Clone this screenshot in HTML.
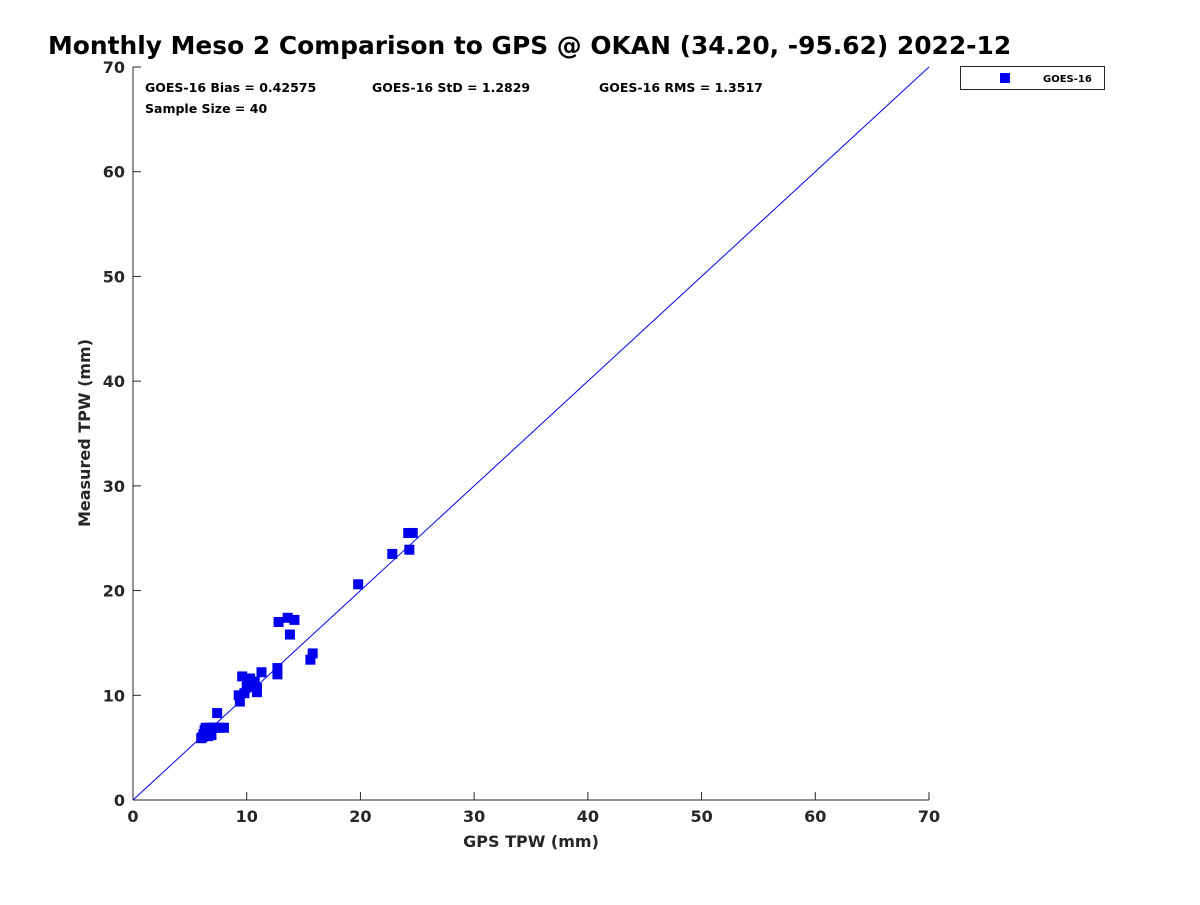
<!DOCTYPE html>
<html><head><meta charset="utf-8"><style>
body{margin:0;background:#fff;}
text{font-family:"DejaVu Sans","Liberation Sans",sans-serif;font-weight:bold;}
</style></head><body>
<svg id="chart" width="1200" height="900" xmlns="http://www.w3.org/2000/svg">
<rect width="1200" height="900" fill="#fff"/>
<text x="48" y="54" font-size="24.9" fill="#000">Monthly Meso 2 Comparison to GPS @ OKAN (34.20, -95.62) 2022-12</text>
<g id="axes"></g>
<line id="diag" stroke="#0000ee" stroke-width="1"/>
<g id="pts"></g>
<text x="145" y="92" font-size="12.5">GOES-16 Bias = 0.42575</text>
<text x="372" y="92" font-size="12.5">GOES-16 StD = 1.2829</text>
<text x="599" y="92" font-size="12.5">GOES-16 RMS = 1.3517</text>
<text x="145" y="113" font-size="12.5">Sample Size = 40</text>
<text x="531" y="847" font-size="16" fill="#262626" text-anchor="middle">GPS TPW (mm)</text>
<text transform="translate(90,433) rotate(-90)" font-size="16" fill="#262626" text-anchor="middle">Measured TPW (mm)</text>
<g>
<rect x="960.5" y="66.5" width="144" height="23" fill="#fff" stroke="#262626" stroke-width="1"/>
<rect x="1000" y="73" width="10" height="10" fill="#0000ee"/>
<text x="1043" y="82" font-size="10">GOES-16</text>
</g>
</svg>
<script>
const xTicks=[0,10,20,30,40,50,60,70];
const yTicks=[0,10,20,30,40,50,60,70];
const gpsValues=[6.0,6.2,6.3,6.5,6.6,6.8,7.0,7.3,7.6,8.0,6.4,7.4,9.3,9.4,9.6,9.8,10.0,10.1,10.3,10.5,10.7,10.9,10.9,11.3,12.7,12.7,12.8,13.6,13.8,14.2,15.6,15.8,19.8,22.8,24.2,24.6,24.3,6.1,6.9,10.2];
const measuredValues=[5.9,6.3,6.7,6.5,6.1,6.9,6.9,6.9,6.9,6.9,6.9,8.3,10.0,9.4,11.8,10.2,10.8,11.4,11.6,11.0,11.3,10.3,10.7,12.2,12.0,12.6,17.0,17.4,15.8,17.2,13.4,14.0,20.6,23.5,25.5,25.5,23.9,6.0,6.2,11.6];
const X0=133,X1=929,Y0=800,Y1=67,MAX=70;
const sx=v=>X0+(X1-X0)*v/MAX, sy=v=>Y0-(Y0-Y1)*v/MAX;
const NS="http://www.w3.org/2000/svg";
const ax=document.getElementById('axes');
function mk(t,a,p){const e=document.createElementNS(NS,t);for(const k in a)e.setAttribute(k,a[k]);(p||ax).appendChild(e);return e;}
let l=mk('line',{x1:X0,y1:Y0,x2:X1,y2:Y0,stroke:'#262626'});


l=mk('line',{x1:X0,y1:Y0,x2:X0,y2:Y1,stroke:'#262626'});


xTicks.forEach(v=>{
 const t=mk('line',{x1:sx(v),y1:Y0,x2:sx(v),y2:Y0-8,stroke:'#262626'});
 
 
 const s=mk('text',{x:sx(v),y:Y0+22,'font-size':16,fill:'#262626','text-anchor':'middle'});
 s.textContent=v;
 
 
});
yTicks.forEach(v=>{
 const t=mk('line',{x1:X0,y1:sy(v),x2:X0+8,y2:sy(v),stroke:'#262626'});
 
 
 const s=mk('text',{x:X0-8,y:sy(v)+6,'font-size':16,fill:'#262626','text-anchor':'end'});
 s.textContent=v;
 
 
});
const d=document.getElementById('diag');
d.setAttribute('x1',sx(0));d.setAttribute('y1',sy(0));d.setAttribute('x2',sx(MAX));d.setAttribute('y2',sy(MAX));
const pg=document.getElementById('pts');
gpsValues.forEach((g,i)=>{
 const r=mk('rect',{x:sx(g)-5,y:sy(measuredValues[i])-5,width:10,height:10,fill:'#0000ee'},pg);
 
 
});
</script>
</body></html>
